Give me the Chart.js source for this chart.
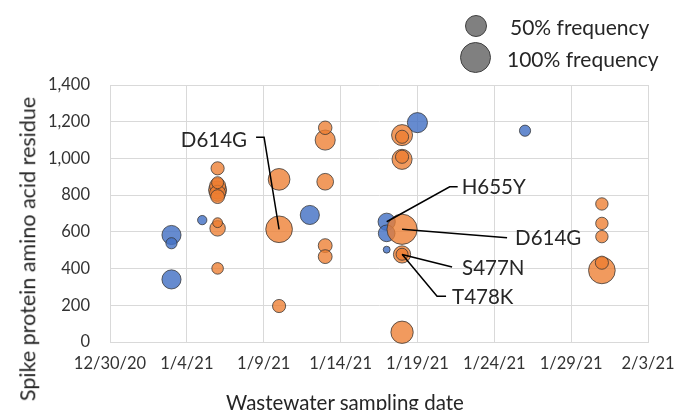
<!DOCTYPE html>
<html><head><meta charset="utf-8">
<script src="https://cdn.jsdelivr.net/npm/chart.js@4.4.0/dist/chart.umd.min.js"></script>
<style>
html,body{margin:0;padding:0;background:#fff;}
#wrap{position:relative;width:692px;height:410px;overflow:hidden;font-family:Lato,"Open Sans",sans-serif;color:#262626;}
#c{position:absolute;left:0;top:0;}
.ytitle{position:absolute;left:28px;top:249px;transform:translate(-50%,-50%) rotate(-90deg);white-space:nowrap;font-size:21.5px;line-height:1;}
.xtitle{position:absolute;left:345px;top:402px;transform:translate(-50%,-50%);white-space:nowrap;font-size:20.5px;line-height:1;}
.lc{position:absolute;border-radius:50%;background:#808080;border:1px solid #404040;box-sizing:border-box;}
.lt{position:absolute;transform:translateY(-50%);white-space:nowrap;font-size:21px;line-height:1;}
</style></head>
<body>
<div id="wrap">
<canvas id="c" width="692" height="410"></canvas>
<div class="ytitle">Spike protein amino acid residue</div>
<div class="xtitle">Wastewater sampling date</div>
<div class="lc" style="left:465px;top:15px;width:22px;height:22px;"></div>
<div class="lt" style="left:510px;top:26px;">50% frequency</div>
<div class="lc" style="left:460px;top:42px;width:31px;height:31px;"></div>
<div class="lt" style="left:507px;top:58px;">100% frequency</div>
</div>
<script>
// ---- data ----
const startDate = '12/30/20';
const xTickDays = [0,5,10,15,20,25,30,35];
const yTicks = [0,200,400,600,800,1000,1200,1400];

const blueDates    = ['1/3/21','1/3/21','1/3/21','1/5/21','1/12/21','1/17/21','1/17/21','1/17/21','1/19/21','1/26/21'];
const blueResidues = [583,538,341,664,692,655,592,503,1195,1151];
const blueFreq     = [38,13,38,9,38,31,29,5,42,13];

const orangeDates = ['1/6/21','1/6/21','1/6/21','1/6/21','1/6/21','1/6/21','1/6/21','1/6/21','1/6/21',
                     '1/10/21','1/10/21','1/10/21',
                     '1/13/21','1/13/21','1/13/21','1/13/21','1/13/21',
                     '1/18/21','1/18/21','1/18/21','1/18/21','1/18/21','1/18/21','1/18/21','1/18/21',
                     '1/31/21','1/31/21','1/31/21','1/31/21','1/31/21'];
const orangeResidues = [946,868,850,828,810,792,650,619,401,
                        886,614,196,
                        1167,1100,873,525,465,
                        1127,1118,1009,995,614,477,478,53,
                        752,646,574,432,390];
const orangeFreq = [18,15,27,34,27,20,10,25,14,
                    49,74,18,
                    19,42,29,20,20,
                    46,18,18,42,95,31,15,52,
                    16,16,16,18,74];

const labelTexts    = ['D614G','H655Y','D614G','S477N','T478K'];
const labelDates    = ['1/10/21','1/17/21','1/18/21','1/18/21','1/18/21'];
const labelResidues = [614,655,614,477,478];

// ---- layout / style (not data) ----
const labelLayout = [
  {path:[[-15,-92],[-23,-92]], text:[-32,-89], align:'right'},
  {path:[[63,-35],[71,-35]],  text:[75,-34],  align:'left'},
  {path:[[105,8.5]],           text:[113,9],   align:'left'},
  {path:[[50,12.5]],           text:[60,14],   align:'left'},
  {path:[[35,42],[44,42]],     text:[50,43],   align:'left'}
];
const MAXR = 15.5;

function dayOf(s){
  const p=s.split('/').map(Number);
  const q=startDate.split('/').map(Number);
  const d=Date.UTC(2000+p[2],p[0]-1,p[1]);
  const d0=Date.UTC(2000+q[2],q[0]-1,q[1]);
  return Math.round((d-d0)/86400000);
}
function dayLabel(n){
  const q=startDate.split('/').map(Number);
  const d=new Date(Date.UTC(2000+q[2],q[0]-1,q[1])+n*86400000);
  return (d.getUTCMonth()+1)+'/'+d.getUTCDate()+'/'+String(d.getUTCFullYear()).slice(2);
}
function build(dates,res,freq){
  return dates.map((d,i)=>({x:dayOf(d),y:res[i],r:MAXR*Math.sqrt(freq[i]/100),f:freq[i]}))
              .sort((a,b)=>b.f-a.f);
}

const annot = {
  id:'annot',
  afterDatasetsDraw(chart){
    const ctx=chart.ctx, xs=chart.scales.x, ys=chart.scales.y;
    ctx.save();
    ctx.strokeStyle='#000'; ctx.lineWidth=1.5;
    ctx.fillStyle='#262626'; ctx.font='20.5px Lato'; ctx.textBaseline='middle';
    labelTexts.forEach((t,i)=>{
      const px=xs.getPixelForValue(dayOf(labelDates[i]));
      const py=ys.getPixelForValue(labelResidues[i]);
      const L=labelLayout[i];
      ctx.beginPath(); ctx.moveTo(px,py);
      L.path.forEach(p=>ctx.lineTo(px+p[0],py+p[1]));
      ctx.stroke();
      ctx.textAlign=L.align;
      ctx.fillText(t,px+L.text[0],py+L.text[1]);
    });
    ctx.restore();
  }
};

new Chart(document.getElementById('c'),{
  type:'bubble',
  data:{datasets:[
    {label:'orange',data:build(orangeDates,orangeResidues,orangeFreq),
     backgroundColor:'rgba(237,125,49,0.78)',borderColor:'rgba(50,50,50,0.75)',borderWidth:1,order:0},
    {label:'blue',data:build(blueDates,blueResidues,blueFreq),
     backgroundColor:'rgba(68,114,196,0.82)',borderColor:'rgba(50,50,50,0.75)',borderWidth:1,order:1}
  ]},
  options:{
    responsive:false,animation:false,events:[],
    layout:{padding:{top:85,right:44,left:0,bottom:0}},
    plugins:{legend:{display:false},tooltip:{enabled:false}},
    clip:false,
    scales:{
      x:{type:'linear',min:0,max:35,
        afterFit(s){s.height=68;},
        afterBuildTicks(s){s.ticks=xTickDays.map(v=>({value:v}));},
        grid:{color:'#d9d9d9',lineWidth:1,drawTicks:false},
        border:{color:'#d9d9d9'},
        ticks:{padding:12,color:'#333333',font:{family:'Lato',size:16.5},maxRotation:0,autoSkip:false,callback:v=>dayLabel(v)}},
      y:{min:0,max:1400,
        afterFit(s){s.width=110;},
        afterBuildTicks(s){s.ticks=yTicks.map(v=>({value:v}));},
        grid:{color:'#d9d9d9',lineWidth:1,drawTicks:false},
        border:{color:'#d9d9d9'},
        ticks:{padding:20,color:'#333333',font:{family:'Lato',size:16.5},callback:v=>v.toLocaleString('en-US')}}
    }
  },
  plugins:[annot]
});
</script>
</body></html>
